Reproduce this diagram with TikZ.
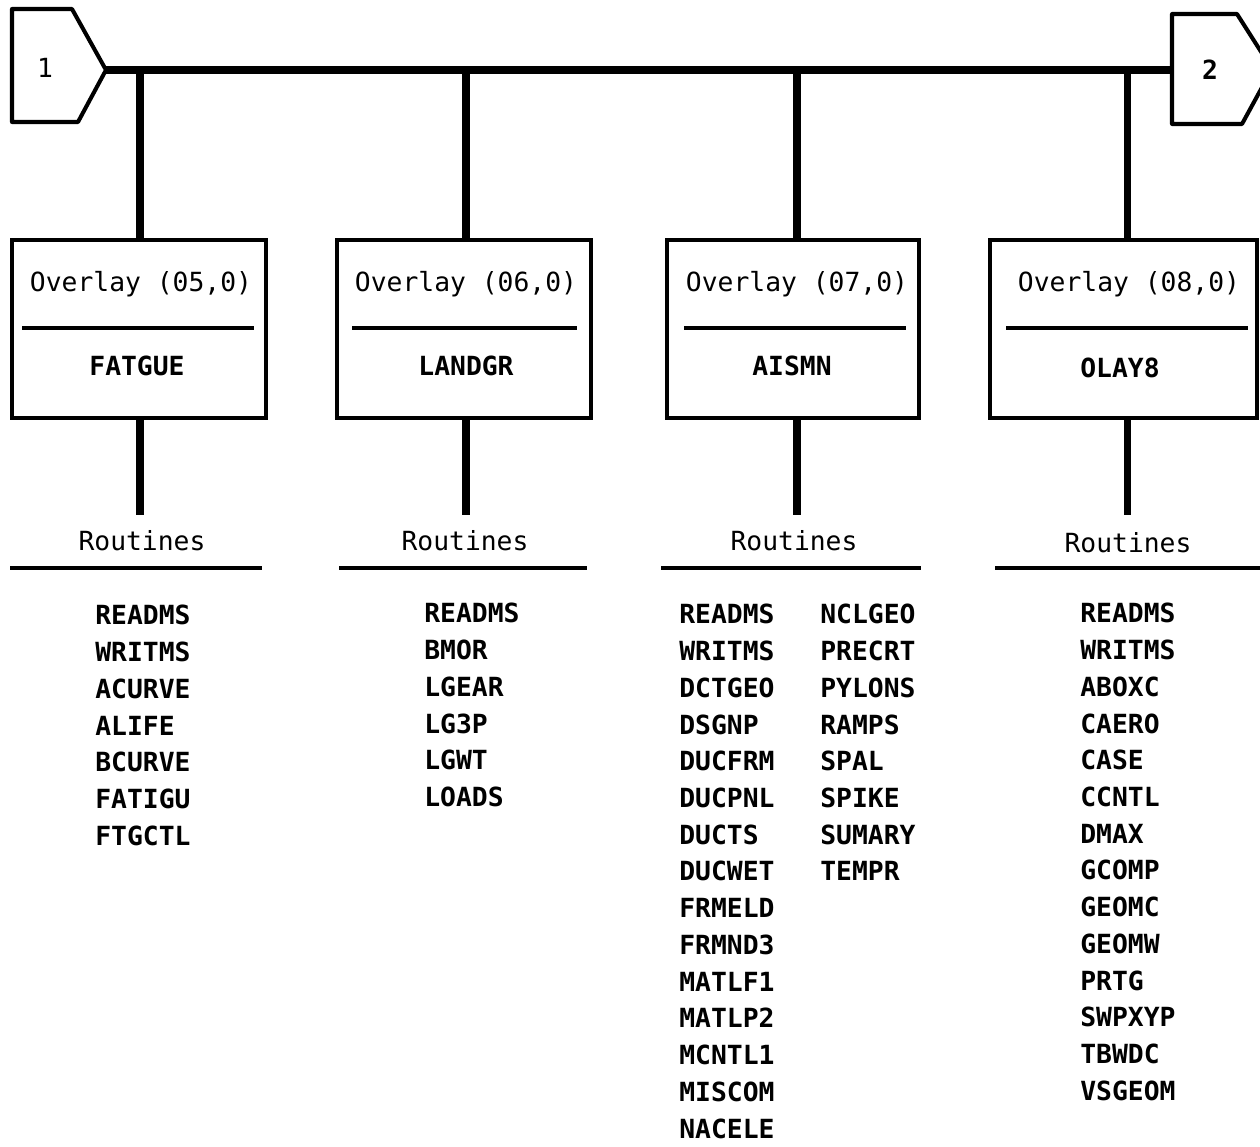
\documentclass[tikz,border=0pt]{standalone}
\usepackage{fontspec}
\setmainfont{DejaVu Sans Mono}
\usetikzlibrary{calc}
\usetikzlibrary{positioning}
\tikzset{>=latex}
\tikzstyle{bus} = [-, line width = 4.6pt]
\tikzstyle{drop} = [-, line width = 4pt]
\tikzstyle{edge} = [-, line width = 2.3pt, line join = round]
\tikzstyle{ovl} = [rectangle, draw, line width = 2.3pt, minimum width = 5.08cm, minimum height = 3.56cm]
\tikzstyle{ttl} = [draw=none, inner sep = 0, font = \fontsize{15}{18}\selectfont]
\tikzstyle{nam} = [draw=none, inner sep = 0, font = \fontsize{15}{18}\selectfont\bfseries]
\tikzstyle{lst} = [draw=none, inner sep = 0, anchor = north west, align = left, font = \fontsize{15}{20.9}\selectfont\bfseries]

\begin{document}
\begin{tikzpicture}[x=0.02cm, y=-0.02cm]
\useasboundingbox (0,0) rectangle (1260,1146);
\clip (0,0) rectangle (1260,1146);
% off-page connectors
\draw [edge] (12,9) -- (72,9) -- (106,70) -- (78,122) -- (12,122) -- cycle;
\draw [edge] (1172,14) -- (1237,14) -- (1272,69) -- (1242,124) -- (1172,124) -- cycle;
\node [ttl] (in) at (45,68) {1};
\node [nam] (out) at (1210,70) {2};
\coordinate (tip) at (106,70);
\coordinate (tail) at (1172,70);
\draw [bus] (tip) -- (tail);
% overlays
\node [ovl] (O5) at (139,329) {};
\node [ovl] (O6) at (464,329) {};
\node [ovl, minimum width = 5.04cm] (O7) at (793,329) {};
\node [ovl, minimum width = 5.34cm] (O8) at (1123.5,329) {};
\node [ttl] (T5) at (141,284) {Overlay (05,0)};
\node [ttl] (T6) at (466,284) {Overlay (06,0)};
\node [ttl] (T7) at (797,284) {Overlay (07,0)};
\node [ttl] (T8) at (1129,284) {Overlay (08,0)};
\draw [edge] (22,328) -- (254,328);
\draw [edge] (352,328) -- (577,328);
\draw [edge] (684,328) -- (906,328);
\draw [edge] (1006,328) -- (1248,328);
\node [nam] (N5) at (137,366) {FATGUE};
\node [nam] (N6) at (466,366) {LANDGR};
\node [nam] (N7) at (792,366) {AISMN};
\node [nam] (N8) at (1120,368) {OLAY8};
\draw [drop] (O5.north -| 140,0) -- (140,70);
\draw [drop] (O6.north -| 466,0) -- (466,70);
\draw [drop] (O7.north -| 797,0) -- (797,70);
\draw [drop] (O8.north -| 1127,0) -- (1127,70);
% routines
\node [ttl] (R5) at (142,541) {Routines};
\node [ttl] (R6) at (465,541) {Routines};
\node [ttl] (R7) at (794,541) {Routines};
\node [ttl] (R8) at (1128,543) {Routines};
\draw [drop] (O5.south -| 140,0) -- (140,515);
\draw [drop] (O6.south -| 466,0) -- (466,515);
\draw [drop] (O7.south -| 797,0) -- (797,515);
\draw [drop] (O8.south -| 1127,0) -- (1127,515);
\draw [edge] (10,568) -- (262,568);
\draw [edge] (339,568) -- (587,568);
\draw [edge] (661,568) -- (921,568);
\draw [edge] (995,568) -- (1260,568);
\node [lst] (L5) at (95,605) {READMS\\WRITMS\\ACURVE\\ALIFE\\BCURVE\\FATIGU\\FTGCTL};
\node [lst] (L6) at (424,603) {READMS\\BMOR\\LGEAR\\LG3P\\LGWT\\LOADS};
\node [lst] (L7a) at (679,604) {READMS\\WRITMS\\DCTGEO\\DSGNP\\DUCFRM\\DUCPNL\\DUCTS\\DUCWET\\FRMELD\\FRMND3\\MATLF1\\MATLP2\\MCNTL1\\MISCOM\\NACELE};
\node [lst] (L7b) at (820,604) {NCLGEO\\PRECRT\\PYLONS\\RAMPS\\SPAL\\SPIKE\\SUMARY\\TEMPR};
\node [lst] (L8) at (1080,603) {READMS\\WRITMS\\ABOXC\\CAERO\\CASE\\CCNTL\\DMAX\\GCOMP\\GEOMC\\GEOMW\\PRTG\\SWPXYP\\TBWDC\\VSGEOM};
\end{tikzpicture}
\end{document}
